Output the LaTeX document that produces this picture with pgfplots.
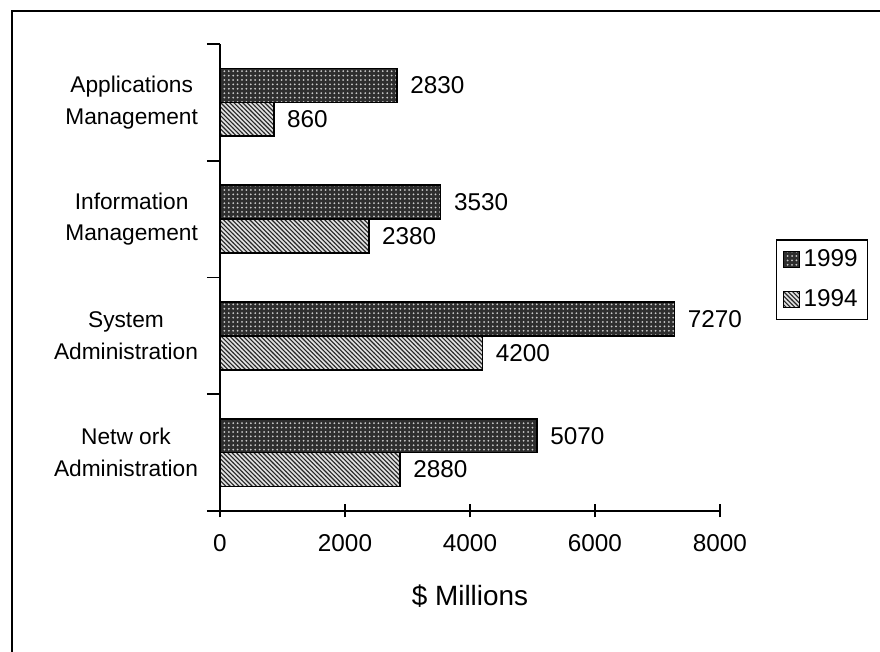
\documentclass[border=0pt]{standalone}
\usepackage{pgfplots}
\pgfplotsset{compat=1.18}
\usetikzlibrary{patterns}
\usepackage{fontspec}
\setmainfont{Liberation Sans}

% fine screen patterns for the bar fills
\pgfdeclarepatternformonly{finedots}{\pgfqpoint{-0.6bp}{-0.6bp}}{\pgfqpoint{1.6bp}{1.6bp}}{\pgfqpoint{2.2bp}{2.2bp}}{%
  \pgfpathcircle{\pgfqpoint{0bp}{0bp}}{0.5bp}\pgfusepath{fill}}
\pgfdeclarepatternformonly{finelines}{\pgfqpoint{-0.2bp}{-0.2bp}}{\pgfqpoint{2.4bp}{2.4bp}}{\pgfqpoint{2.2bp}{2.2bp}}{%
  \pgfsetlinewidth{0.55bp}%
  \pgfpathmoveto{\pgfqpoint{-0.1bp}{2.3bp}}\pgfpathlineto{\pgfqpoint{2.3bp}{-0.1bp}}\pgfusepath{stroke}}

% spending by segment, $ millions
\pgfplotstableread{
pos y1999 y1994
0.5 5070 2880
1.5 7270 4200
2.5 3530 2380
3.5 2830 860
}\spending

\tikzset{
  bar99/.style={draw=black, line width=0.8bp, fill=black!82,
    postaction={pattern=finedots, pattern color=white!80!black}},
  bar94/.style={draw=black, line width=0.8bp, fill=black!12,
    postaction={pattern=finelines, pattern color=black!85}},
}

\begin{document}
\begin{tikzpicture}
\useasboundingbox (0,0) rectangle (440bp,326bp);
\draw[line width=0.9bp] (6bp,0) -- (6bp,320.5bp) -- (440bp,320.5bp);
\begin{axis}[
  at={(110bp,70.5bp)}, anchor=south west,
  scale only axis, width=250bp, height=233.5bp,
  xmin=0, xmax=8000, ymin=0, ymax=4,
  axis x line*=bottom, axis y line*=left,
  xtick pos=left, ytick pos=left,
  axis line style={-, line width=0.8bp},
  xtick align=center, ytick align=center, major tick length=6.5bp,
  xtick={0,2000,4000,6000,8000},
  ytick={0,1,2,3,4}, yticklabels={},
  extra y ticks={0.5,1.5,2.5,3.5},
  extra y tick labels={{Netw ork\\Administration},{System\\Administration},{Information\\Management},{Applications\\Management}},
  extra y tick style={major tick length=0pt,
    tick label style={align=center, font=\fontsize{11.4}{16}\selectfont, xshift=-7.5bp}},
  tick style={black, line width=0.8bp},
  /pgf/number format/assume math mode=true,
  /pgf/number format/1000 sep={},
  xticklabel style={font=\fontsize{12.2}{14}\selectfont, yshift=-5bp},
  xlabel={\$ Millions},
  xlabel style={at={(axis description cs:0.5,0)}, anchor=base, yshift=-47bp,
    font=\fontsize{14}{16}\selectfont},
  xbar, bar width=0.29,
  nodes near coords,
  point meta=x,
  every node near coord/.append style={font=\fontsize{12.2}{14}\selectfont,
    anchor=west, xshift=3bp, black},
  legend style={at={(1.112,0.495)}, anchor=west, draw=black, line width=0.6bp,
    font=\fontsize{12.2}{14}\selectfont, row sep=6bp, inner sep=3bp,
    /tikz/every even column/.append style={column sep=1bp}},
  legend cell align=left,
  legend image code/.code={\draw[#1, line width=0.5bp] (0bp,-4bp) rectangle (8bp,4bp);},
]
\addplot[bar99, bar shift=0.145] table[x=y1999, y=pos] {\spending};
\addlegendentry{1999}
\addplot[bar94, bar shift=-0.145] table[x=y1994, y=pos] {\spending};
\addlegendentry{1994}
\end{axis}
\end{tikzpicture}
\end{document}
